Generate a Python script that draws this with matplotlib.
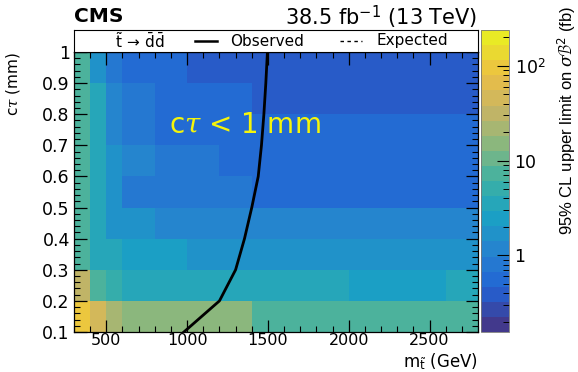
# Limites de CMS en el plano masa del stop vs c-tau
# con la curva observada encima del mapa de colores

import numpy as np
import matplotlib
matplotlib.use("Agg")
import matplotlib.pyplot as plt
from matplotlib.colors import LinearSegmentedColormap, ListedColormap, LogNorm
from matplotlib.ticker import MultipleLocator, FixedLocator, LogLocator, NullFormatter

plt.rcParams["font.family"] = ["DejaVu Sans"]
plt.rcParams["mathtext.fontset"] = "custom"
plt.rcParams["mathtext.rm"] = "DejaVu Sans"
plt.rcParams["mathtext.it"] = "DejaVu Serif:italic"

# bordes de los bins
Bordes_masa = [300, 400, 500, 600, 800, 1000, 1200, 1400, 1600,
               1800, 2000, 2200, 2400, 2600, 2800]
Bordes_ctau = [0.1, 0.2, 0.3, 0.4, 0.5, 0.6, 0.7, 0.8, 0.9, 1.0]

# limite superior (fb), filas de ctau 0.1 -> 1.0
Limite_fila_01 = [96, 46, 22, 18, 15.3, 15.3, 15.3, 7.3, 7.3, 7.3, 7.3, 7.3, 7.3, 7.3]
Limite_fila_02 = [32, 7.3, 5.1, 3.5, 3.5, 3.5, 3.5, 3.5, 3.5, 3.5, 2.44, 2.44, 2.44, 3.5]
Limite_fila_03 = [7.3, 3.5, 3.5, 2.44, 2.44, 1.69, 1.69, 1.69, 1.69, 1.69, 1.69, 1.69, 1.69, 1.69]
Limite_fila_04 = [7.3, 3.5, 1.69, 1.69, 1.17, 1.17, 1.17, 1.17, 1.17, 1.17, 1.17, 1.17, 1.17, 1.17]
Limite_fila_05 = [7.3, 3.5, 1.69, 0.81, 0.81, 0.81, 0.81, 0.56, 0.56, 0.56, 0.56, 0.56, 0.56, 0.56]
Limite_fila_06 = [7.3, 3.5, 1.69, 1.17, 0.81, 0.81, 0.56, 0.56, 0.56, 0.56, 0.56, 0.56, 0.56, 0.56]
Limite_fila_07 = [7.3, 3.5, 1.17, 0.81, 0.56, 0.56, 0.56, 0.56, 0.56, 0.56, 0.56, 0.56, 0.56, 0.56]
Limite_fila_08 = [7.3, 3.5, 1.17, 0.81, 0.56, 0.56, 0.56, 0.39, 0.39, 0.39, 0.39, 0.39, 0.39, 0.39]
Limite_fila_09 = [7.3, 1.69, 0.81, 0.56, 0.56, 0.39, 0.39, 0.39, 0.39, 0.39, 0.39, 0.39, 0.39, 0.39]

# curva observada
Ctau_observado = [0.1, 0.2, 0.3, 0.4, 0.5, 0.6, 0.7, 0.8, 0.9, 1.0]
Masa_observado = [980, 1200, 1300, 1355, 1400, 1440, 1460, 1475, 1487, 1497]

Limites = np.array([
    Limite_fila_01, Limite_fila_02, Limite_fila_03,
    Limite_fila_04, Limite_fila_05, Limite_fila_06,
    Limite_fila_07, Limite_fila_08, Limite_fila_09,
])

# paleta kBird de ROOT con 20 niveles, un poco apagada como en la imagen
Rojo = [0.2082, 0.0592, 0.0780, 0.0232, 0.1802, 0.5301, 0.8186, 0.9956, 0.9764]
Verde = [0.1664, 0.3599, 0.5041, 0.6419, 0.7178, 0.7492, 0.7328, 0.7862, 0.9832]
Azul = [0.5293, 0.8684, 0.8385, 0.7914, 0.6425, 0.4662, 0.3499, 0.1968, 0.0539]
Paleta = LinearSegmentedColormap.from_list("bird", list(zip(Rojo, Verde, Azul)))
Colores = Paleta(np.linspace(0, 1, 20))
Colores[:, :3] = 0.85 * Colores[:, :3] + 0.15 * np.array([0.55, 0.55, 0.65])
Paleta = ListedColormap(Colores)

W, H = 578, 372
fig = plt.figure(figsize=(W / 100, H / 100), dpi=100)

def Caja(x0, y0, x1, y1):
    return [x0 / W, 1 - y1 / H, (x1 - x0) / W, (y1 - y0) / H]

ax = fig.add_axes(Caja(74, 52, 478, 332))
Malla = ax.pcolormesh(
    Bordes_masa, Bordes_ctau, Limites,
    cmap=Paleta, norm=LogNorm(vmin=0.155, vmax=240),
)
ax.plot(Masa_observado, Ctau_observado, color="black", lw=2)

ax.set_xlim(300, 2800)
ax.set_ylim(0.1, 1.0)
ax.xaxis.set_major_locator(MultipleLocator(500))
ax.xaxis.set_minor_locator(MultipleLocator(100))
ax.yaxis.set_minor_locator(MultipleLocator(0.02))
ax.set_yticks(np.arange(0.1, 1.01, 0.1))
ax.set_yticklabels(["0.1", "0.2", "0.3", "0.4", "0.5", "0.6", "0.7", "0.8", "0.9", "1"])
ax.tick_params(which="both", direction="in", top=True, right=True, labelsize=12.5, pad=3)
ax.tick_params(axis="x", pad=1, labelsize=11.5)
ax.tick_params(which="major", length=9, width=0.9)
ax.tick_params(which="minor", length=4.5, width=0.8)
for Lado in ax.spines.values():
    Lado.set_linewidth(0.9)

# texto amarillo
ax.text(885, 0.765, r"c$\mathit{\tau}$ < 1 mm", color="#f5f50a",
        fontsize=20, ha="left", va="center")

# etiquetas de ejes
fig.text(478 / W, 1 - 367 / H, r"m$_{\tilde{\mathrm{t}}}$ (GeV)",
         ha="right", va="baseline", fontsize=12)
fig.text(13 / W, 1 - 52 / H, r"c$\mathit{\tau}$ (mm)", rotation=90,
         ha="center", va="top", fontsize=11)

# titulo
fig.text(74 / W, 1 - 17 / H, "CMS", fontsize=14.5, fontweight="bold",
         ha="left", va="center")
fig.text(477 / W, 1 - 17 / H, r"38.5 fb$^{-1}$ (13 TeV)", fontsize=15,
         ha="right", va="center")

# caja de leyenda
Leyenda = fig.add_axes(Caja(74, 30, 478, 52))
Leyenda.set_xlim(74, 478)
Leyenda.set_ylim(0, 1)
Leyenda.set_xticks([])
Leyenda.set_yticks([])
for Lado in Leyenda.spines.values():
    Lado.set_linewidth(0.8)
Leyenda.text(140, 0.5, r"$\tilde{\mathrm{t}}\,\rightarrow\,\bar{\mathrm{d}}\bar{\mathrm{d}}$",
             ha="center", va="center", fontsize=11)
Leyenda.plot([195, 217], [0.5, 0.5], color="black", lw=1.8)
Leyenda.text(230, 0.5, "Observed", ha="left", va="center", fontsize=11)
Leyenda.plot([340, 362], [0.5, 0.5], color="black", lw=1, ls=(0, (2.5, 2.5)))
Leyenda.text(377, 0.5, "Expected", ha="left", va="center", fontsize=11)

# barra de color
Barra_ax = fig.add_axes(Caja(481, 30, 509, 332))
Barra = fig.colorbar(Malla, cax=Barra_ax)
Barra.outline.set_linewidth(0.6)
Barra.outline.set_edgecolor("#777777")
Barra_ax.yaxis.set_major_locator(FixedLocator([1, 10, 100]))
Barra_ax.yaxis.set_minor_locator(LogLocator(subs=np.arange(2, 10)))
Barra_ax.yaxis.set_minor_formatter(NullFormatter())
Barra_ax.set_yticklabels(["1", "10", r"10$^{2}$"])
Barra_ax.tick_params(which="both", direction="in", labelsize=12.5, pad=4)
Barra_ax.tick_params(which="major", length=9, width=0.8)
Barra_ax.tick_params(which="minor", length=4.5, width=0.7)
fig.text(567 / W, 1 - 6 / H, r"95% CL upper limit on $\sigma\mathcal{B}^{2}$ (fb)",
         rotation=90, ha="center", va="top", fontsize=12,
         family="Liberation Sans")

fig.savefig("out.png", dpi=100)
